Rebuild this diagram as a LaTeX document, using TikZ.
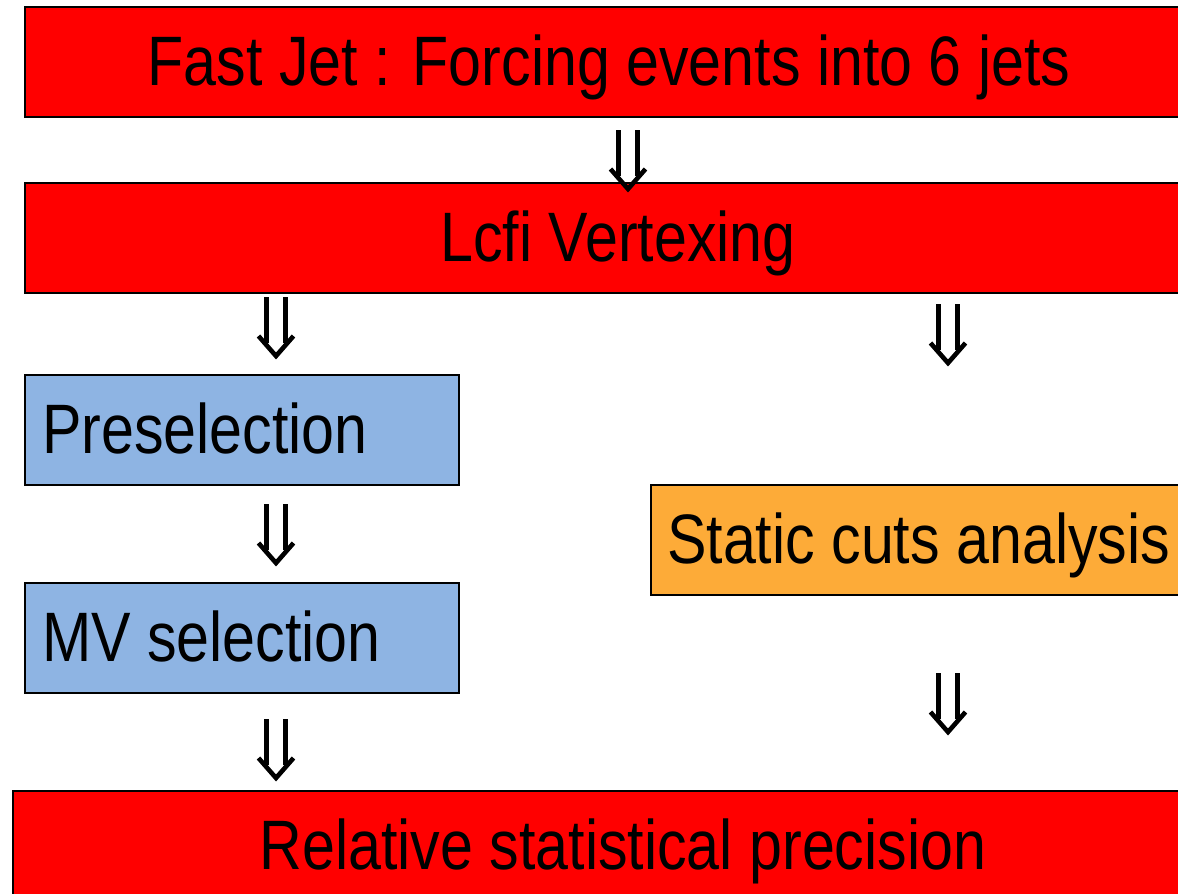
\documentclass[tikz,border=0pt]{standalone}
\usepackage{fontspec}
\setmainfont{Liberation Sans}
\newcommand{\narrowtext}[1]{\scalebox{0.845}[1]{#1}}
\begin{document}
\begin{tikzpicture}[x=1pt,y=-1pt,
  stage/.style={draw=black, line width=2pt, inner sep=0pt, anchor=north west},
  redstage/.style={stage, fill=red},
  bluestage/.style={stage, fill={rgb,255:red,142;green,180;blue,227}},
  orangestage/.style={stage, fill={rgb,255:red,253;green,171;blue,56}},
  label/.style={font=\fontsize{70}{84}\selectfont, inner sep=0pt, text=black},
  dbl/.pic={
    \draw[line width=4.6pt] (-9.5,0) -- (-9.5,46) (9.5,0) -- (9.5,46);
    \draw[line width=4.6pt, line join=miter] (-17.5,39) -- (0,59) -- (17.5,39);
  }]
\useasboundingbox (0,0) rectangle (1178,894);
\clip (0,0) rectangle (1178,894);

% processing stages
\node[redstage, minimum width=1200pt, minimum height=110pt] (fastjet) at (24,6) {};
\node[redstage, minimum width=1200pt, minimum height=110pt] (lcfi) at (24,182) {};
\node[bluestage, minimum width=434pt, minimum height=110pt] (presel) at (24,374) {};
\node[bluestage, minimum width=434pt, minimum height=110pt] (mvsel) at (24,582) {};
\node[orangestage, minimum width=560pt, minimum height=110pt] (static) at (650,484) {};
\node[redstage, minimum width=1200pt, minimum height=140pt] (relprec) at (12,790) {};

% stage titles
\node[label, anchor=base] (tfast) at (609,85) {\narrowtext{Fast Jet : Forcing events into 6 jets}};
\node[label, anchor=base] (tlcfi) at (618,261) {\narrowtext{Lcfi Vertexing}};
\node[label, anchor=base west] (tpresel) at (42,453) {\narrowtext{Preselection}};
\node[label, anchor=base west] (tmv) at (42,661) {\narrowtext{MV selection}};
\node[label, anchor=base west] (tstatic) at (667,563) {\narrowtext{Static cuts analysis}};
\node[label, anchor=base] (trel) at (623,869) {\narrowtext{Relative statistical precision}};

% flow arrows
\pic at (628,130) {dbl};
\pic at (276,297) {dbl};
\pic at (948,304) {dbl};
\pic at (276,504) {dbl};
\pic at (948,673) {dbl};
\pic at (276,719) {dbl};
\end{tikzpicture}
\end{document}
